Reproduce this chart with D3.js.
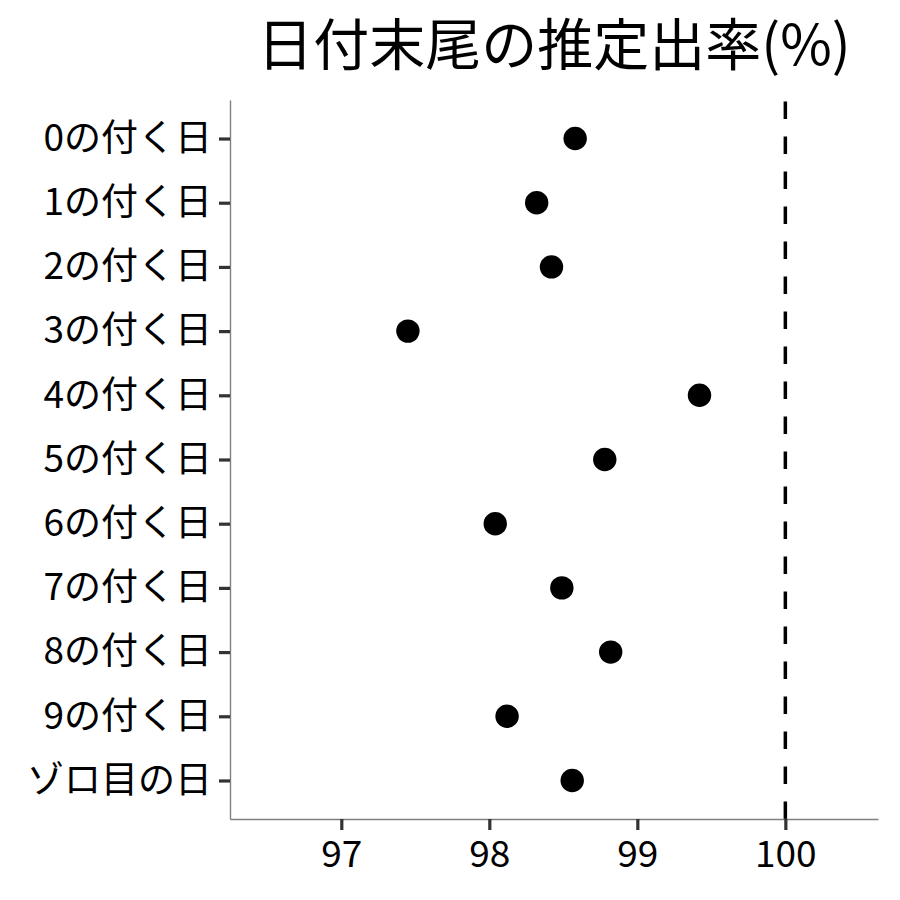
<!DOCTYPE html>
<html>
<head>
<meta charset="utf-8">
<script src="https://cdn.jsdelivr.net/npm/d3@7"></script>
<style>
  body { margin: 0; background: #fff; }
  svg text { font-family: "Noto Sans CJK JP", "Noto Sans", sans-serif; }
</style>
</head>
<body>
<div id="chart"></div>
<script>
// categories, top to bottom
const categories = ["0の付く日", "1の付く日", "2の付く日", "3の付く日", "4の付く日",
  "5の付く日", "6の付く日", "7の付く日", "8の付く日", "9の付く日", "ゾロ目の日"];
// estimated rate (%)
const rates = [98.58, 98.32, 98.42, 97.45, 99.42, 98.78, 98.04, 98.49, 98.82, 98.12, 98.56];
const xTicks = [97, 98, 99, 100];
const refLine = 100;
const title = "日付末尾の推定出率(%)";

const data = categories.map((c, i) => ({ cat: c, rate: rates[i] }));

const width = 900;
const height = 900;
const panel = { left: 230, right: 878, top: 100, bottom: 819 };

const svg = d3.select("#chart")
  .append("svg")
  .attr("width", width)
  .attr("height", height);

const x = d3.scaleLinear()
  .domain([96.248, 100.626])
  .range([panel.left, panel.right]);

const y = d3.scalePoint()
  .domain(categories)
  .range([panel.top, panel.bottom])
  .padding(0.6);

// reference line, dashes start from the bottom like ggplot
svg.append("line")
  .attr("x1", x(refLine))
  .attr("x2", x(refLine))
  .attr("y1", panel.bottom)
  .attr("y2", panel.top)
  .attr("stroke", "#000")
  .attr("stroke-width", 3.5)
  .attr("stroke-dasharray", "17.5,17.5");

// points
svg.append("g")
  .selectAll("circle")
  .data(data)
  .join("circle")
  .attr("cx", d => x(d.rate))
  .attr("cy", d => y(d.cat))
  .attr("r", 11.7)
  .attr("fill", "#000");

// x axis
const xAxis = svg.append("g")
  .attr("transform", `translate(0, ${panel.bottom})`)
  .call(d3.axisBottom(x).tickValues(xTicks).tickFormat(d3.format("d"))
    .tickSize(11).tickSizeOuter(0).tickPadding(10));

// y axis
const yAxis = svg.append("g")
  .attr("transform", `translate(${panel.left}, 0)`)
  .call(d3.axisLeft(y).tickSize(11).tickSizeOuter(0).tickPadding(7));

[xAxis, yAxis].forEach(ax => {
  ax.select(".domain").attr("stroke", "#808080").attr("stroke-width", 1.4);
  ax.selectAll(".tick line").attr("stroke", "#333").attr("stroke-width", 3.2);
  ax.selectAll(".tick text")
    .attr("fill", "#000")
    .style("font-size", "37px");
});
xAxis.selectAll(".tick text").attr("dy", "0.74em");

// title centered over panel
svg.append("text")
  .attr("x", (panel.left + panel.right) / 2)
  .attr("y", 65)
  .attr("text-anchor", "middle")
  .attr("fill", "#000")
  .style("font-size", "56px")
  .text(title);
</script>
</body>
</html>
